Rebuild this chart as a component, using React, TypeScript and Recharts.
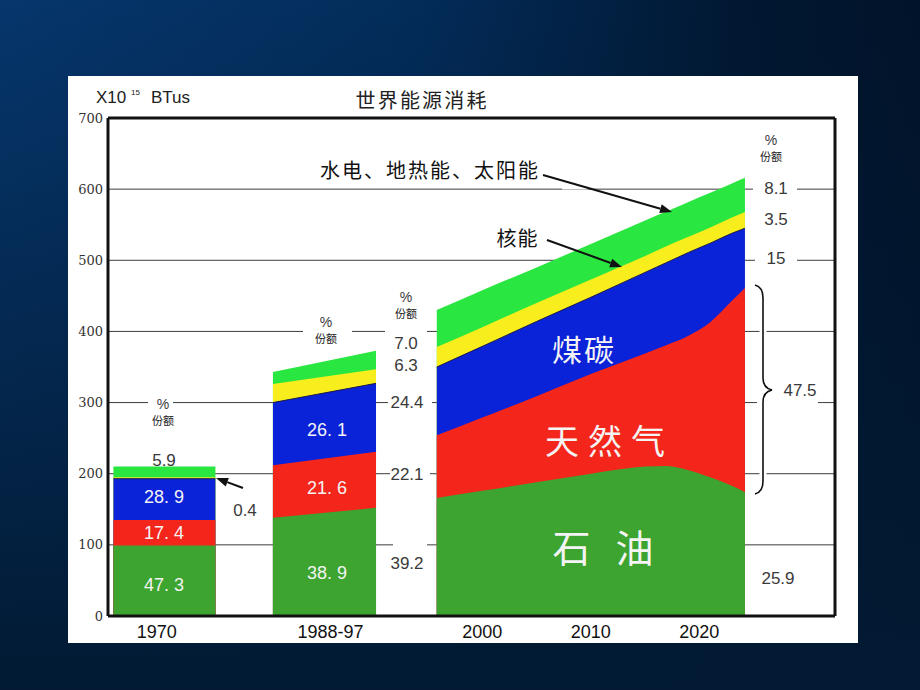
import React from "react"
import {
  ComposedChart,
  Area,
  XAxis,
  YAxis,
  CartesianGrid,
  ReferenceLine,
} from "recharts"

/* x positions in years; the null rows split the three blocks */
const years = [1966, 1975.4, 1978, 1980.7, 1990.2, 1993, 1995.8, 2000, 2005, 2010, 2015, 2017, 2019, 2021, 2023, 2024.2]

/* cumulative tops of each layer, x10^15 BTu */
const oilTop = [99, 99, null, 138, 152, null, 166, 176, 188, 200, 210, 211, 205, 195, 183, 174]
const gasTop = [135, 135, null, 212, 231, null, 254, 279, 309, 340, 369, 381, 394, 413, 443, 461]
const coalTop = [193, 193, null, 300, 327, null, 350, 379, 414, 448, 483, 497, 511, 524, 538, 545]
const nuclearTop = [195, 195, null, 326, 347, null, 378, 406, 440, 473, 506, 520, 533, 546, 560, 568]
const hydroTop = [210, 210, null, 343, 373, null, 430, 458, 490, 523, 556, 569, 582, 595, 608, 616]

const xTicks = [1970, 1986, 2000, 2010, 2020]
const xTickLabels = ["1970", "1988-97", "2000", "2010", "2020"]
const yTicks = [0, 100, 200, 300, 400, 500, 600, 700]

/* share labels (%) */
const share1970 = ["47. 3", "17. 4", "28. 9", "0.4", "5.9"]
const share1990 = ["38. 9", "21. 6", "26. 1"]
const share1990Side = ["39.2", "22.1", "24.4", "6.3", "7.0"]
const share2020 = ["25.9", "47.5", "15", "3.5", "8.1"]

const rows = years.map((x, i) => ({
  x,
  oil: oilTop[i],
  gas: gasTop[i],
  coal: coalTop[i],
  nuclear: nuclearTop[i],
  hydro: hydroTop[i],
}))

const SANS = "'Liberation Sans', Arial, sans-serif"
const CJK = "'Noto Sans CJK SC', sans-serif"
const GREY = "#3a3a3a"

function XTick(props: { x?: number; y?: number; payload?: { value: number } }) {
  const x = props.x ?? 0
  const y = props.y ?? 0
  const i = xTicks.indexOf(props.payload?.value ?? 0)
  return (
    <text x={x} y={y + 22} textAnchor="middle" fontSize={18} fontFamily={SANS} fill="#111">
      {xTickLabels[i]}
    </text>
  )
}

function Arrow({ x1, y1, x2, y2 }: { x1: number; y1: number; x2: number; y2: number }) {
  const a = Math.atan2(y2 - y1, x2 - x1)
  const L = 12
  const W = 4.5
  const bx = x2 - L * Math.cos(a)
  const by = y2 - L * Math.sin(a)
  const pts = [
    `${x2},${y2}`,
    `${bx + W * Math.sin(a)},${by - W * Math.cos(a)}`,
    `${bx - W * Math.sin(a)},${by + W * Math.cos(a)}`,
  ].join(" ")
  return (
    <g>
      <line x1={x1} y1={y1} x2={bx} y2={by} stroke="#111" strokeWidth={2} />
      <polygon points={pts} fill="#111" />
    </g>
  )
}

function Label({ x, y, size, fill = GREY, font = SANS, children, len }: {
  x: number; y: number; size: number; fill?: string; font?: string; children: React.ReactNode; len?: number
}) {
  return (
    <text
      x={x}
      y={y}
      textAnchor="middle"
      dominantBaseline="central"
      fontSize={size}
      fontFamily={font}
      fill={fill}
      textLength={len}
      lengthAdjust={len ? "spacing" : undefined}
    >
      {children}
    </text>
  )
}

function Pct({ x, y }: { x: number; y: number }) {
  return (
    <g>
      <Label x={x} y={y - 1} size={14}>%</Label>
      <Label x={x} y={y + 15} size={11} font={CJK} fill="#222">份额</Label>
    </g>
  )
}

/* white breaks in the grid lines, panel pixels: [x1, x2, y] */
const gridGaps = [
  [80, 105, 327], [235, 284, 255], [317, 359, 255], [320, 364, 327], [322, 362, 398],
  [325, 359, 469], [685, 729, 113], [687, 729, 184], [689, 750, 327], [494, 520, 111],
]

function Overlay() {
  const white = "#f4f4f4"
  return (
    <svg width={790} height={567} style={{ position: "absolute", left: 0, top: 0, pointerEvents: "none" }}>
      {gridGaps.map(([a, b, y], i) => (
        <rect key={i} x={a} y={y - 2.5} width={b - a} height={5} fill="#fff" />
      ))}

      {/* header */}
      <text x={28} y={27} fontSize={17} fontFamily={SANS} fill="#222">X10</text>
      <text x={63} y={19} fontSize={8} fontFamily={SANS} fill="#222">15</text>
      <text x={83} y={27} fontSize={17} fontFamily={SANS} fill="#222">BTus</text>
      <Label x={353} y={23} size={20} font={CJK} fill="#222" len={131}>世界能源消耗</Label>

      {/* 1970 */}
      <Pct x={95} y={329} />
      <Label x={96} y={384} size={17}>{share1970[4]}</Label>
      <Label x={96} y={421} size={18} fill={white}>{share1970[2]}</Label>
      <Label x={96} y={457} size={18} fill={white}>{share1970[1]}</Label>
      <Label x={96} y={509} size={18} fill={white}>{share1970[0]}</Label>
      <Label x={177} y={434} size={17}>{share1970[3]}</Label>
      <Arrow x1={175} y1={412} x2={148} y2={402} />

      {/* 1988-97 */}
      <Pct x={258} y={247} />
      <Label x={259} y={354} size={18} fill={white}>{share1990[2]}</Label>
      <Label x={259} y={412} size={18} fill={white}>{share1990[1]}</Label>
      <Label x={259} y={497} size={18} fill={white}>{share1990[0]}</Label>
      <Pct x={338} y={222} />
      <Label x={338} y={267} size={17}>{share1990Side[4]}</Label>
      <Label x={338} y={289} size={17}>{share1990Side[3]}</Label>
      <Label x={339} y={326} size={17}>{share1990Side[2]}</Label>
      <Label x={339} y={398} size={17}>{share1990Side[1]}</Label>
      <Label x={339} y={487} size={17}>{share1990Side[0]}</Label>

      {/* 2000-2020 */}
      <Label x={515} y={272} size={30} font={CJK} fill={white} len={62}>煤碳</Label>
      <Label x={537} y={363} size={34} font={CJK} fill={white} len={120}>天然气</Label>
      <Label x={535} y={469} size={38} font={CJK} fill={white} len={101}>石 油</Label>
      <Label x={361} y={93} size={20} font={CJK} fill="#111" len={218}>水电、地热能、太阳能</Label>
      <Label x={449} y={161} size={20} font={CJK} fill="#111" len={41}>核能</Label>
      <Arrow x1={475} y1={99} x2={604} y2={136} />
      <Arrow x1={479} y1={164} x2={554} y2={191} />

      <Pct x={703} y={65} />
      <Label x={708} y={112} size={17}>{share2020[4]}</Label>
      <Label x={708} y={143} size={17}>{share2020[3]}</Label>
      <Label x={708} y={182} size={17}>{share2020[2]}</Label>
      <Label x={732} y={314} size={17}>{share2020[1]}</Label>
      <Label x={710} y={502} size={17}>{share2020[0]}</Label>
      <path
        d="M 687 209 Q 695 211 695 222 L 695 302 Q 695 312 704 314 Q 695 316 695 326 L 695 405 Q 695 416 687 418"
        fill="none"
        stroke="#fff"
        strokeWidth={7}
      />
      <path
        d="M 687 209 Q 695 211 695 222 L 695 302 Q 695 312 704 314 Q 695 316 695 326 L 695 405 Q 695 416 687 418"
        fill="none"
        stroke="#111"
        strokeWidth={1.6}
      />
    </svg>
  )
}

export default function App() {
  return (
    <div
      style={{
        position: "absolute",
        left: 0,
        top: 0,
        width: 920,
        height: 690,
        background:
          "linear-gradient(180deg, rgba(2,26,51,0) 0%, rgba(2,26,51,0.15) 15%, rgba(2,26,51,1) 100%), linear-gradient(90deg, #06366c 0%, #032c5a 45%, #011832 80%, #01132a 100%)",
      }}
    >
      <div style={{ position: "absolute", left: 68, top: 76, width: 790, height: 567, background: "#fff" }}>
        <ComposedChart width={790} height={567} data={rows} margin={{ top: 42, right: 23, bottom: 0, left: 0 }}>
          <CartesianGrid vertical={false} stroke="#3c3c3c" strokeWidth={1} />
          <XAxis
            dataKey="x"
            type="number"
            domain={[1965.5, 2032.5]}
            ticks={xTicks}
            interval={0}
            height={27}
            tickSize={0}
            tickMargin={0}
            tickLine={false}
            axisLine={{ stroke: "#111", strokeWidth: 3 }}
            tick={<XTick />}
          />
          <YAxis
            type="number"
            domain={[0, 700]}
            ticks={yTicks}
            interval={0}
            width={40}
            tickSize={0}
            tickMargin={5}
            tickLine={false}
            axisLine={{ stroke: "#111", strokeWidth: 3 }}
            tick={{ fill: "#333", fontSize: 13, fontFamily: "'DejaVu Serif', serif" }}
          />

          {/* painted back to front: each layer covers the one above it */}
          <Area dataKey="hydro" type="monotone" fill="#2ae640" fillOpacity={1} stroke="none" isAnimationActive={false} />
          <Area dataKey="nuclear" type="monotone" fill="#f8ee1e" fillOpacity={1} stroke="none" isAnimationActive={false} />
          <Area dataKey="coal" type="monotone" fill="#0a22d8" fillOpacity={1} stroke="#1b1b4a" strokeWidth={1} isAnimationActive={false} />
          <Area dataKey="gas" type="monotone" fill="#f4261b" fillOpacity={1} stroke="none" isAnimationActive={false} />
          <Area dataKey="oil" type="monotone" fill="#3da42f" fillOpacity={1} stroke="none" isAnimationActive={false} />

          <ReferenceLine y={700} stroke="#111" strokeWidth={3} />
          <ReferenceLine x={2032.5} stroke="#111" strokeWidth={3} />
        </ComposedChart>
        <Overlay />
      </div>
    </div>
  )
}
